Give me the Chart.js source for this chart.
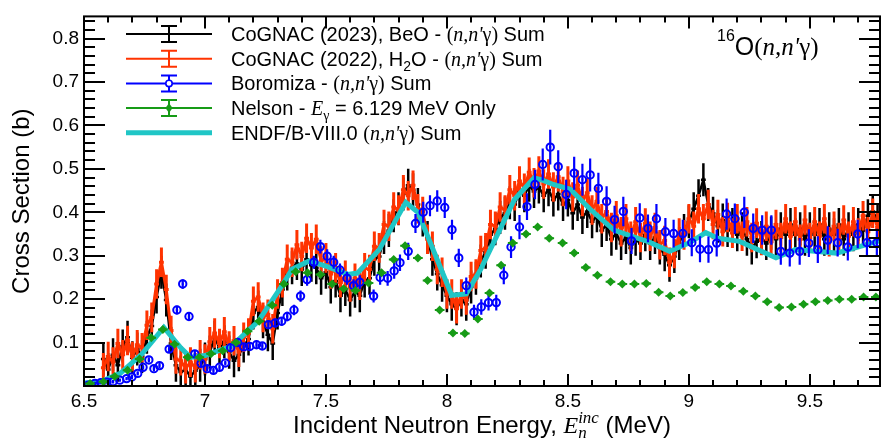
<!DOCTYPE html>
<html>
<head>
<meta charset="utf-8">
<title>16O(n,n'g) cross section</title>
<script src="https://cdn.jsdelivr.net/npm/chart.js@4.4.1/dist/chart.umd.min.js"></script>
<style>
  html, body { margin: 0; padding: 0; background: #fff; }
  #wrap { width: 886px; height: 441px; }
</style>
</head>
<body>
<div id="wrap"><canvas id="mycanvas" width="886" height="441"></canvas></div>
<script>
// axis ticks
var xTicks = [6.5, 7, 7.5, 8, 8.5, 9, 9.5];
var xTickLabels = ['6.5', '7', '7.5', '8', '8.5', '9', '9.5'];
var yTicks = [0.1, 0.2, 0.3, 0.4, 0.5, 0.6, 0.7, 0.8];
var yTickLabels = ['0.1', '0.2', '0.3', '0.4', '0.5', '0.6', '0.7', '0.8'];

// CoGNAC runs, 20 keV bins starting at 6.58 MeV
var cognacStart = 6.58;
var cognacStep = 0.02;
var beo2023 = [
  0.062, 0.038, 0.072, 0.048, 0.092, 0.112, 0.065, 0.085, 0.068, 0.112,
  0.138, 0.205, 0.262, 0.198, 0.098, 0.048, 0.032, 0.038, 0.022, 0.035,
  0.048, 0.062, 0.078, 0.112, 0.088, 0.102, 0.078, 0.058, 0.072, 0.092,
  0.108, 0.168, 0.182, 0.148, 0.118, 0.098, 0.168, 0.222, 0.258, 0.272,
  0.282, 0.268, 0.292, 0.278, 0.272, 0.248, 0.262, 0.228, 0.242, 0.208,
  0.222, 0.198, 0.218, 0.208, 0.242, 0.248, 0.292, 0.298, 0.342, 0.358,
  0.392, 0.408, 0.442, 0.462, 0.452, 0.418, 0.382, 0.342, 0.292, 0.258,
  0.232, 0.208, 0.188, 0.178, 0.198, 0.188, 0.228, 0.248, 0.288, 0.308,
  0.348, 0.362, 0.388, 0.398, 0.422, 0.418, 0.448, 0.438, 0.462, 0.448,
  0.458, 0.438, 0.452, 0.428, 0.442, 0.418, 0.428, 0.398, 0.418, 0.388,
  0.402, 0.378, 0.392, 0.358, 0.372, 0.338, 0.352, 0.328, 0.342, 0.318,
  0.338, 0.328, 0.348, 0.328, 0.342, 0.318, 0.302, 0.278, 0.298, 0.328,
  0.358, 0.378, 0.408, 0.438, 0.475, 0.418, 0.398, 0.368, 0.382, 0.358,
  0.372, 0.348, 0.362, 0.338, 0.318, 0.332, 0.342, 0.328, 0.352, 0.338,
  0.362, 0.348, 0.372, 0.348, 0.362, 0.338, 0.362, 0.348, 0.372, 0.338,
  0.362, 0.348, 0.372, 0.338, 0.362, 0.348, 0.372, 0.358, 0.392, 0.402,
  0.382
];
var beo2023Err = 0.038;
var h2o2022 = [
  0.042, 0.068, 0.055, 0.098, 0.072, 0.105, 0.068, 0.095, 0.088, 0.140,
  0.158, 0.235, 0.285, 0.222, 0.128, 0.062, 0.058, 0.040, 0.055, 0.042,
  0.072, 0.062, 0.102, 0.122, 0.098, 0.125, 0.092, 0.104, 0.078, 0.112,
  0.122, 0.195, 0.205, 0.158, 0.165, 0.132, 0.212, 0.238, 0.292, 0.285,
  0.325, 0.298, 0.340, 0.318, 0.338, 0.288, 0.295, 0.258, 0.272, 0.238,
  0.255, 0.228, 0.248, 0.232, 0.272, 0.268, 0.322, 0.318, 0.372, 0.368,
  0.412, 0.405, 0.452, 0.438, 0.462, 0.408, 0.402, 0.338, 0.322, 0.268,
  0.262, 0.212, 0.212, 0.178, 0.212, 0.198, 0.252, 0.258, 0.312, 0.318,
  0.372, 0.368, 0.412, 0.405, 0.452, 0.438, 0.472, 0.455, 0.492, 0.468,
  0.495, 0.465, 0.488, 0.458, 0.482, 0.448, 0.472, 0.435, 0.462, 0.425,
  0.445, 0.405, 0.425, 0.385, 0.402, 0.365, 0.392, 0.355, 0.385, 0.345,
  0.378, 0.342, 0.375, 0.345, 0.365, 0.325, 0.335, 0.285, 0.305, 0.352,
  0.348, 0.385, 0.368, 0.408, 0.385, 0.418, 0.372, 0.395, 0.355, 0.388,
  0.352, 0.385, 0.345, 0.378, 0.342, 0.375, 0.335, 0.368, 0.332, 0.372,
  0.342, 0.385, 0.345, 0.378, 0.338, 0.382, 0.342, 0.378, 0.345, 0.385,
  0.332, 0.368, 0.342, 0.382, 0.345, 0.378, 0.352, 0.392, 0.355, 0.398,
  0.365
];
var h2o2022Err = 0.034;

// Boromiza
var boroE = [
  6.518, 6.545, 6.569, 6.595, 6.620, 6.648, 6.676, 6.698, 6.722, 6.744,
  6.768, 6.789, 6.812, 6.852, 6.884, 6.908, 6.934, 6.958, 6.984, 7.009,
  7.035, 7.060, 7.084, 7.106, 7.135, 7.160, 7.185, 7.213, 7.237, 7.262,
  7.290, 7.317, 7.340, 7.368, 7.395, 7.422, 7.450, 7.477, 7.505, 7.532,
  7.558, 7.587, 7.614, 7.640, 7.697, 7.724, 7.755, 7.782, 7.806, 7.840,
  7.870, 7.902, 7.930, 7.960, 7.991, 8.021, 8.049, 8.080, 8.112, 8.142,
  8.172, 8.204, 8.235, 8.265, 8.300, 8.331, 8.364, 8.396, 8.427, 8.460,
  8.493, 8.526, 8.560, 8.592, 8.626, 8.660, 8.693, 8.729, 8.763, 8.797,
  8.831, 8.866, 8.903, 8.937, 8.975, 9.012, 9.046, 9.081, 9.115, 9.156,
  9.190, 9.229, 9.266, 9.303, 9.341, 9.380, 9.417, 9.458, 9.496, 9.533,
  9.574, 9.615, 9.657, 9.698, 9.736, 9.777
];
var boroXs = [
  0.002, 0.006, 0.0075, 0.009, 0.010, 0.0135, 0.017, 0.021, 0.029, 0.043,
  0.060, 0.040, 0.047, 0.085, 0.175, 0.235, 0.160, 0.074, 0.052, 0.040,
  0.036, 0.043, 0.053, 0.088, 0.100, 0.090, 0.091, 0.095, 0.092, 0.141,
  0.145, 0.149, 0.160, 0.175, 0.207, 0.245, 0.285, 0.321, 0.299, 0.285,
  0.267, 0.248, 0.231, 0.239, 0.207, 0.250, 0.248, 0.265, 0.284, 0.310,
  0.374, 0.400, 0.415, 0.426, 0.411, 0.360, 0.295, 0.231, 0.170, 0.182,
  0.192, 0.192, 0.255, 0.320, 0.366, 0.413, 0.464, 0.510, 0.550, 0.505,
  0.441, 0.490, 0.475, 0.486, 0.455, 0.425, 0.383, 0.402, 0.334, 0.387,
  0.363, 0.385, 0.355, 0.351, 0.351, 0.330, 0.315, 0.314, 0.329, 0.396,
  0.385, 0.400, 0.363, 0.359, 0.359, 0.310, 0.306, 0.310, 0.329, 0.314,
  0.336, 0.330, 0.320, 0.350, 0.330, 0.330
];
var boroErr = [
  0.004, 0.004, 0.004, 0.004, 0.004, 0.004, 0.004, 0.005, 0.005, 0.005,
  0.006, 0.006, 0.006, 0.007, 0.010, 0.011, 0.010, 0.007, 0.006, 0.006,
  0.006, 0.006, 0.006, 0.008, 0.008, 0.008, 0.008, 0.008, 0.008, 0.010,
  0.010, 0.010, 0.011, 0.012, 0.013, 0.014, 0.015, 0.016, 0.016, 0.015,
  0.015, 0.015, 0.015, 0.016, 0.015, 0.017, 0.017, 0.018, 0.019, 0.020,
  0.022, 0.024, 0.024, 0.025, 0.024, 0.023, 0.021, 0.019, 0.017, 0.018,
  0.018, 0.018, 0.021, 0.025, 0.028, 0.031, 0.034, 0.037, 0.040, 0.038,
  0.034, 0.038, 0.037, 0.038, 0.036, 0.035, 0.032, 0.034, 0.030, 0.034,
  0.032, 0.034, 0.032, 0.032, 0.032, 0.031, 0.030, 0.030, 0.031, 0.036,
  0.035, 0.036, 0.034, 0.034, 0.034, 0.031, 0.031, 0.031, 0.032, 0.031,
  0.032, 0.032, 0.031, 0.033, 0.032, 0.032
];

// Nelson, 6.129 MeV gamma only
var nelsonE = [
  6.525, 6.580, 6.627, 6.680, 6.730, 6.778, 6.826, 6.874, 6.929, 6.977,
  7.025, 7.073, 7.128, 7.176, 7.224, 7.278, 7.326, 7.375, 7.424, 7.477,
  7.525, 7.573, 7.622, 7.676, 7.730, 7.780, 7.827, 7.880, 7.920, 7.970,
  8.025, 8.074, 8.128, 8.176, 8.224, 8.272, 8.327, 8.375, 8.423, 8.478,
  8.526, 8.574, 8.622, 8.676, 8.725, 8.775, 8.824, 8.875, 8.923, 8.975,
  9.026, 9.074, 9.126, 9.174, 9.225, 9.275, 9.324, 9.373, 9.424, 9.474,
  9.523, 9.574, 9.622, 9.673, 9.722, 9.773
];
var nelsonXs = [
  0.006, 0.010, 0.022, 0.036, 0.062, 0.111, 0.130, 0.096, 0.066, 0.066,
  0.074, 0.081, 0.100, 0.126, 0.149, 0.186, 0.235, 0.263, 0.261, 0.257,
  0.235, 0.224, 0.220, 0.237, 0.261, 0.291, 0.323, 0.295, 0.243, 0.175,
  0.122, 0.121, 0.154, 0.214, 0.278, 0.329, 0.350, 0.366, 0.340, 0.329,
  0.306, 0.273, 0.255, 0.240, 0.235, 0.235, 0.236, 0.216, 0.207, 0.215,
  0.227, 0.240, 0.235, 0.230, 0.218, 0.207, 0.194, 0.181, 0.182, 0.188,
  0.194, 0.197, 0.200, 0.200, 0.205, 0.205
];
var nelsonEErr = 0.02;
var nelsonXsErr = 0.004;

// ENDF/B-VIII.0 evaluation
var endfE = [
  6.50, 6.57, 6.65, 6.74, 6.83, 6.90, 6.94, 7.00, 7.11, 7.22,
  7.31, 7.36, 7.43, 7.50, 7.59, 7.63, 7.72, 7.83, 7.88, 8.02,
  8.08, 8.14, 8.28, 8.36, 8.39, 8.44, 8.51, 8.59, 8.69, 8.79,
  8.83, 8.92, 9.00, 9.07, 9.12, 9.21, 9.36, 9.44, 9.61, 9.73,
  9.80
];
var endfXs = [
  0.007, 0.010, 0.029, 0.074, 0.135, 0.088, 0.066, 0.070, 0.092, 0.149,
  0.224, 0.269, 0.288, 0.276, 0.257, 0.260, 0.314, 0.423, 0.400, 0.209,
  0.212, 0.269, 0.430, 0.479, 0.475, 0.464, 0.453, 0.408, 0.359, 0.340,
  0.333, 0.310, 0.329, 0.353, 0.340, 0.333, 0.295, 0.314, 0.306, 0.325,
  0.336
];

var SANS = '"Liberation Sans", Arial, sans-serif';
var SERIF = '"Liberation Serif", "Times New Roman", serif';
var BLACK = '#000000';
var RED = '#ff3300';
var BLUE = '#0000ff';
var GREEN = '#169b16';
var CYAN = '#20c6c6';

function binned(start, step, vals) {
  return vals.map(function(v, i) { return { x: start + i * step, y: v }; });
}
function paired(xs, ys) {
  return xs.map(function(x, i) { return { x: x, y: ys[i] }; });
}

// rich text: list of runs {t, f, dy, keep}; keep = do not advance the pen
function drawRich(ctx, x, y, runs, align) {
  var w = 0;
  runs.forEach(function(r) { ctx.font = r.f; if (!r.keep) w += ctx.measureText(r.t).width; });
  var cx = align === 'center' ? x - w / 2 : x;
  runs.forEach(function(r) {
    ctx.font = r.f;
    ctx.fillText(r.t, cx, y + (r.dy || 0));
    if (!r.keep) cx += ctx.measureText(r.t).width;
  });
}

var errorBars = {
  id: 'errorBars',
  beforeDatasetDraw: function(chart, args) {
    var ds = chart.data.datasets[args.index];
    if (ds.yErr === undefined && ds.xErr === undefined) return;
    var xs = chart.scales.x, ys = chart.scales.y, ctx = chart.ctx, a = chart.chartArea;
    ctx.save();
    ctx.beginPath();
    ctx.rect(a.left, a.top, a.right - a.left, a.bottom - a.top);
    ctx.clip();
    ctx.strokeStyle = ds.errColor;
    ctx.lineWidth = ds.errWidth;
    ctx.beginPath();
    ds.data.forEach(function(p, i) {
      var ey = Array.isArray(ds.yErr) ? ds.yErr[i] : ds.yErr;
      var ex = Array.isArray(ds.xErr) ? ds.xErr[i] : ds.xErr;
      var px = xs.getPixelForValue(p.x), py = ys.getPixelForValue(p.y);
      if (ey) {
        ctx.moveTo(px, ys.getPixelForValue(p.y - ey));
        ctx.lineTo(px, ys.getPixelForValue(p.y + ey));
      }
      if (ex) {
        ctx.moveTo(xs.getPixelForValue(p.x - ex), py);
        ctx.lineTo(xs.getPixelForValue(p.x + ex), py);
      }
    });
    ctx.stroke();
    ctx.restore();
  }
};

// frame with inward ticks on all four sides
var frame = {
  id: 'frame',
  afterDatasetsDraw: function(chart) {
    var ctx = chart.ctx, a = chart.chartArea, xs = chart.scales.x, ys = chart.scales.y;
    ctx.save();
    ctx.strokeStyle = '#000';
    ctx.lineWidth = 2;
    ctx.beginPath();
    for (var k = 65; k <= 98; k++) {
      var px = Math.round(xs.getPixelForValue(k / 10));
      if (px > a.right) break;
      var len = k % 5 === 0 ? 12 : 6;
      ctx.moveTo(px, a.bottom); ctx.lineTo(px, a.bottom - len);
      ctx.moveTo(px, a.top); ctx.lineTo(px, a.top + len);
    }
    for (var j = 0; j <= 43; j++) {
      var py = Math.round(ys.getPixelForValue(j * 0.02));
      if (py < a.top) break;
      var ylen = j % 5 === 0 ? 21 : 11;
      ctx.moveTo(a.left, py); ctx.lineTo(a.left + ylen, py);
      ctx.moveTo(a.right, py); ctx.lineTo(a.right - ylen, py);
    }
    ctx.stroke();
    ctx.strokeRect(a.left, a.top, a.right - a.left, a.bottom - a.top);
    ctx.restore();
  }
};

var captions = {
  id: 'captions',
  afterDraw: function(chart) {
    var ctx = chart.ctx, a = chart.chartArea;
    var f20 = '20px ' + SANS, s20 = '20px ' + SERIF, i20 = 'italic 20px ' + SERIF;
    var sub = '14px ' + SANS, ssub = '14px ' + SERIF;
    var nng = [{ t: '(', f: s20 }, { t: "n,n'", f: i20 }, { t: 'γ', f: s20 }, { t: ')', f: s20 }];
    ctx.save();
    ctx.fillStyle = '#000';
    ctx.textBaseline = 'alphabetic';

    // legend
    var rows = [
      { c: BLACK, mark: 'bar', text: [{ t: 'CoGNAC (2023), BeO - ', f: f20 }].concat(nng, [{ t: ' Sum', f: f20 }]) },
      { c: RED, mark: 'bar', text: [{ t: 'CoGNAC (2022), H', f: f20 }, { t: '2', f: sub, dy: 5 }, { t: 'O - ', f: f20 }].concat(nng, [{ t: ' Sum', f: f20 }]) },
      { c: BLUE, mark: 'circle', text: [{ t: 'Boromiza - ', f: f20 }].concat(nng, [{ t: ' Sum', f: f20 }]) },
      { c: GREEN, mark: 'diamond', text: [{ t: 'Nelson - ', f: f20 }, { t: 'E', f: i20 }, { t: 'γ', f: ssub, dy: 5 }, { t: ' = 6.129 MeV Only', f: f20 }] },
      { c: CYAN, mark: 'line', text: [{ t: 'ENDF/B-VIII.0 ', f: f20 }].concat(nng, [{ t: ' Sum', f: f20 }]) }
    ];
    var x0 = 126, x1 = 212, xc = 169;
    rows.forEach(function(r, i) {
      var y = 34 + i * 24.7;
      ctx.strokeStyle = r.c;
      ctx.fillStyle = r.c;
      ctx.lineWidth = r.mark === 'line' ? 5 : 2;
      ctx.beginPath();
      ctx.moveTo(x0, y); ctx.lineTo(x1, y);
      if (r.mark !== 'line') {
        ctx.moveTo(xc, y - 8); ctx.lineTo(xc, y + 8);
        ctx.moveTo(xc - 8, y - 8); ctx.lineTo(xc + 8, y - 8);
        ctx.moveTo(xc - 8, y + 8); ctx.lineTo(xc + 8, y + 8);
      }
      ctx.stroke();
      if (r.mark === 'circle') {
        ctx.fillStyle = '#fff';
        ctx.beginPath(); ctx.arc(xc, y, 3.2, 0, Math.PI * 2); ctx.fill();
        ctx.lineWidth = 1.6; ctx.stroke();
      } else if (r.mark === 'diamond') {
        ctx.beginPath();
        ctx.moveTo(xc, y - 5); ctx.lineTo(xc + 3.5, y); ctx.lineTo(xc, y + 5); ctx.lineTo(xc - 3.5, y);
        ctx.closePath(); ctx.fill();
      }
      ctx.fillStyle = '#000';
      drawRich(ctx, 231, y + 7, r.text, 'left');
    });

    // reaction label
    drawRich(ctx, 717, 55, [
      { t: '16', f: '16px ' + SANS, dy: -14 },
      { t: 'O', f: '25px ' + SANS },
      { t: '(', f: '25px ' + SERIF },
      { t: "n,n'", f: 'italic 25px ' + SERIF },
      { t: 'γ', f: '25px ' + SERIF },
      { t: ')', f: '25px ' + SERIF }
    ], 'left');

    // axis titles
    drawRich(ctx, (a.left + a.right) / 2, 433, [
      { t: 'Incident Neutron Energy, ', f: '24px ' + SANS },
      { t: 'E', f: 'italic 24px ' + SERIF },
      { t: 'n', f: 'italic 17px ' + SERIF, dy: 5, keep: true },
      { t: 'inc', f: 'italic 17px ' + SERIF, dy: -10 },
      { t: ' (MeV)', f: '24px ' + SANS }
    ], 'center');
    ctx.translate(29, (a.top + a.bottom) / 2);
    ctx.rotate(-Math.PI / 2);
    ctx.textAlign = 'center';
    ctx.font = '24px ' + SANS;
    ctx.fillText('Cross Section (b)', 0, 0);
    ctx.restore();
  }
};

var ctx = document.getElementById('mycanvas');
var myChart = new Chart(ctx, {
  type: 'scatter',
  data: {
    datasets: [
      {
        label: 'Nelson - E_gamma = 6.129 MeV Only',
        data: paired(nelsonE, nelsonXs),
        xErr: nelsonEErr, yErr: nelsonXsErr, errColor: GREEN, errWidth: 2,
        pointStyle: 'rectRot', pointRadius: 4.5, backgroundColor: GREEN, borderColor: GREEN, borderWidth: 0,
        showLine: false, order: 0
      },
      {
        label: 'Boromiza - (n,n\'g) Sum',
        data: paired(boroE, boroXs),
        xErr: 0.005, yErr: boroErr, errColor: BLUE, errWidth: 2.2,
        pointStyle: 'circle', pointRadius: 3.7, backgroundColor: 'rgba(0,0,0,0)', borderColor: BLUE, borderWidth: 2,
        showLine: false, order: 1
      },
      {
        label: 'ENDF/B-VIII.0 (n,n\'g) Sum',
        data: paired(endfE, endfXs),
        showLine: true, borderColor: CYAN, borderWidth: 5, pointRadius: 0, tension: 0, fill: false,
        order: 2
      },
      {
        label: 'CoGNAC (2022), H2O - (n,n\'g) Sum',
        data: binned(cognacStart, cognacStep, h2o2022),
        xErr: cognacStep / 2, yErr: h2o2022Err, errColor: RED, errWidth: 3,
        pointRadius: 0, showLine: true, borderColor: RED, borderWidth: 3, tension: 0, order: 3
      },
      {
        label: 'CoGNAC (2023), BeO - (n,n\'g) Sum',
        data: binned(cognacStart, cognacStep, beo2023),
        xErr: cognacStep / 2, yErr: beo2023Err, errColor: BLACK, errWidth: 2.5,
        pointRadius: 0, showLine: true, borderColor: BLACK, borderWidth: 2.5, tension: 0, order: 4
      }
    ]
  },
  options: {
    responsive: false,
    animation: false,
    devicePixelRatio: 1,
    layout: { padding: { top: 8, right: 2, left: 0, bottom: 0 } },
    plugins: { legend: { display: false }, tooltip: { enabled: false } },
    events: [],
    scales: {
      x: {
        type: 'linear', min: 6.5, max: 9.79,
        grid: { display: false, drawTicks: false },
        border: { display: false },
        afterBuildTicks: function(s) { s.ticks = xTicks.map(function(v) { return { value: v }; }); },
        afterFit: function(s) { s.height = 55; },
        ticks: {
          color: '#000', padding: 4, maxRotation: 0, autoSkip: false,
          font: { family: SANS, size: 19 },
          callback: function(v) { var i = xTicks.indexOf(v); return i < 0 ? '' : xTickLabels[i]; }
        }
      },
      y: {
        type: 'linear', min: 0, max: 0.851,
        grid: { display: false, drawTicks: false },
        border: { display: false },
        afterBuildTicks: function(s) { s.ticks = yTicks.map(function(v) { return { value: v }; }); },
        afterFit: function(s) { s.width = 84; },
        ticks: {
          color: '#000', padding: 5, autoSkip: false,
          font: { family: SANS, size: 19 },
          callback: function(v) { var i = yTicks.indexOf(v); return i < 0 ? '' : yTickLabels[i]; }
        }
      }
    }
  },
  plugins: [errorBars, frame, captions]
});
</script>
</body>
</html>
